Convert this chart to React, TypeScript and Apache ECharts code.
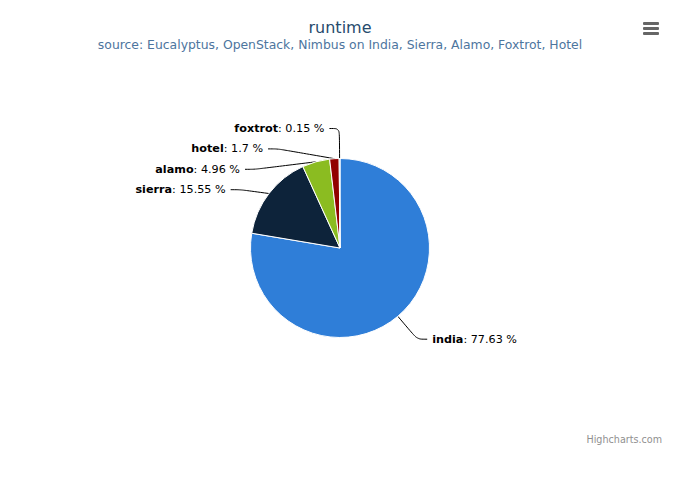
import React, { useEffect, useRef } from "react";
import * as echarts from "echarts";

const categories = ["india", "sierra", "alamo", "hotel", "foxtrot"];
const values = [77.63, 15.55, 4.96, 1.7, 0.15];
const colors = ["#2f7ed8", "#0d233a", "#8bbc21", "#910000", "#1aadce"];
const titleText = "runtime";
const subtitleText = "source: Eucalyptus, OpenStack, Nimbus on India, Sierra, Alamo, Foxtrot, Hotel";

export default function App() {
  const ref = useRef<HTMLDivElement>(null);
  useEffect(() => {
    const chart = echarts.init(ref.current!, undefined, { renderer: "svg" });
    const font = "'DejaVu Sans', sans-serif";
    chart.setOption({
      animation: false,
      backgroundColor: "#ffffff",
      textStyle: { fontFamily: font },
      title: {
        text: titleText,
        subtext: subtitleText,
        left: "center",
        top: 14,
        itemGap: 3,
        textStyle: { fontFamily: font, fontSize: 16, fontWeight: "normal", color: "#274b6d" },
        subtextStyle: { fontFamily: font, fontSize: 12.4, color: "#4d759e" },
      },
      graphic: [
        { type: "rect", shape: { x: 643, y: 22, width: 16, height: 3, r: 1 }, style: { fill: "#666666" } },
        { type: "rect", shape: { x: 643, y: 27, width: 16, height: 3, r: 1 }, style: { fill: "#666666" } },
        { type: "rect", shape: { x: 643, y: 32, width: 16, height: 3, r: 1 }, style: { fill: "#666666" } },
        {
          type: "text",
          right: 18,
          top: 434,
          style: { text: "Highcharts.com", fontFamily: font, fontSize: 9.6, fill: "#909090" },
        },
      ],
      series: [
        {
          type: "pie",
          center: [340, 248],
          radius: [0, 89.5],
          startAngle: 90,
          clockwise: true,
          color: colors,
          itemStyle: { borderColor: "#ffffff", borderWidth: 1 },
          emphasis: { disabled: true },
          data: categories.map((c, i) => ({ name: c, value: values[i] })),
          label: {
            show: true,
            position: "outside",
            fontFamily: font,
            fontSize: 11.2,
            lineHeight: 18.4,
            color: "#000000",
            formatter: (p: any) => `{b|${p.name}}: ${p.value} %`,
            rich: { b: { fontWeight: "bold", fontSize: 11.2, lineHeight: 18.4, fontFamily: font, color: "#000000" } },
          },
          labelLine: {
            show: true,
            length: 30,
            length2: 10,
            smooth: 0.3,
            lineStyle: { color: "#000000", width: 1 },
          },
        },
      ],
    });
    return () => chart.dispose();
  }, []);
  return <div ref={ref} style={{ position: "fixed", left: 0, top: 0, width: 680, height: 500 }} />;
}
